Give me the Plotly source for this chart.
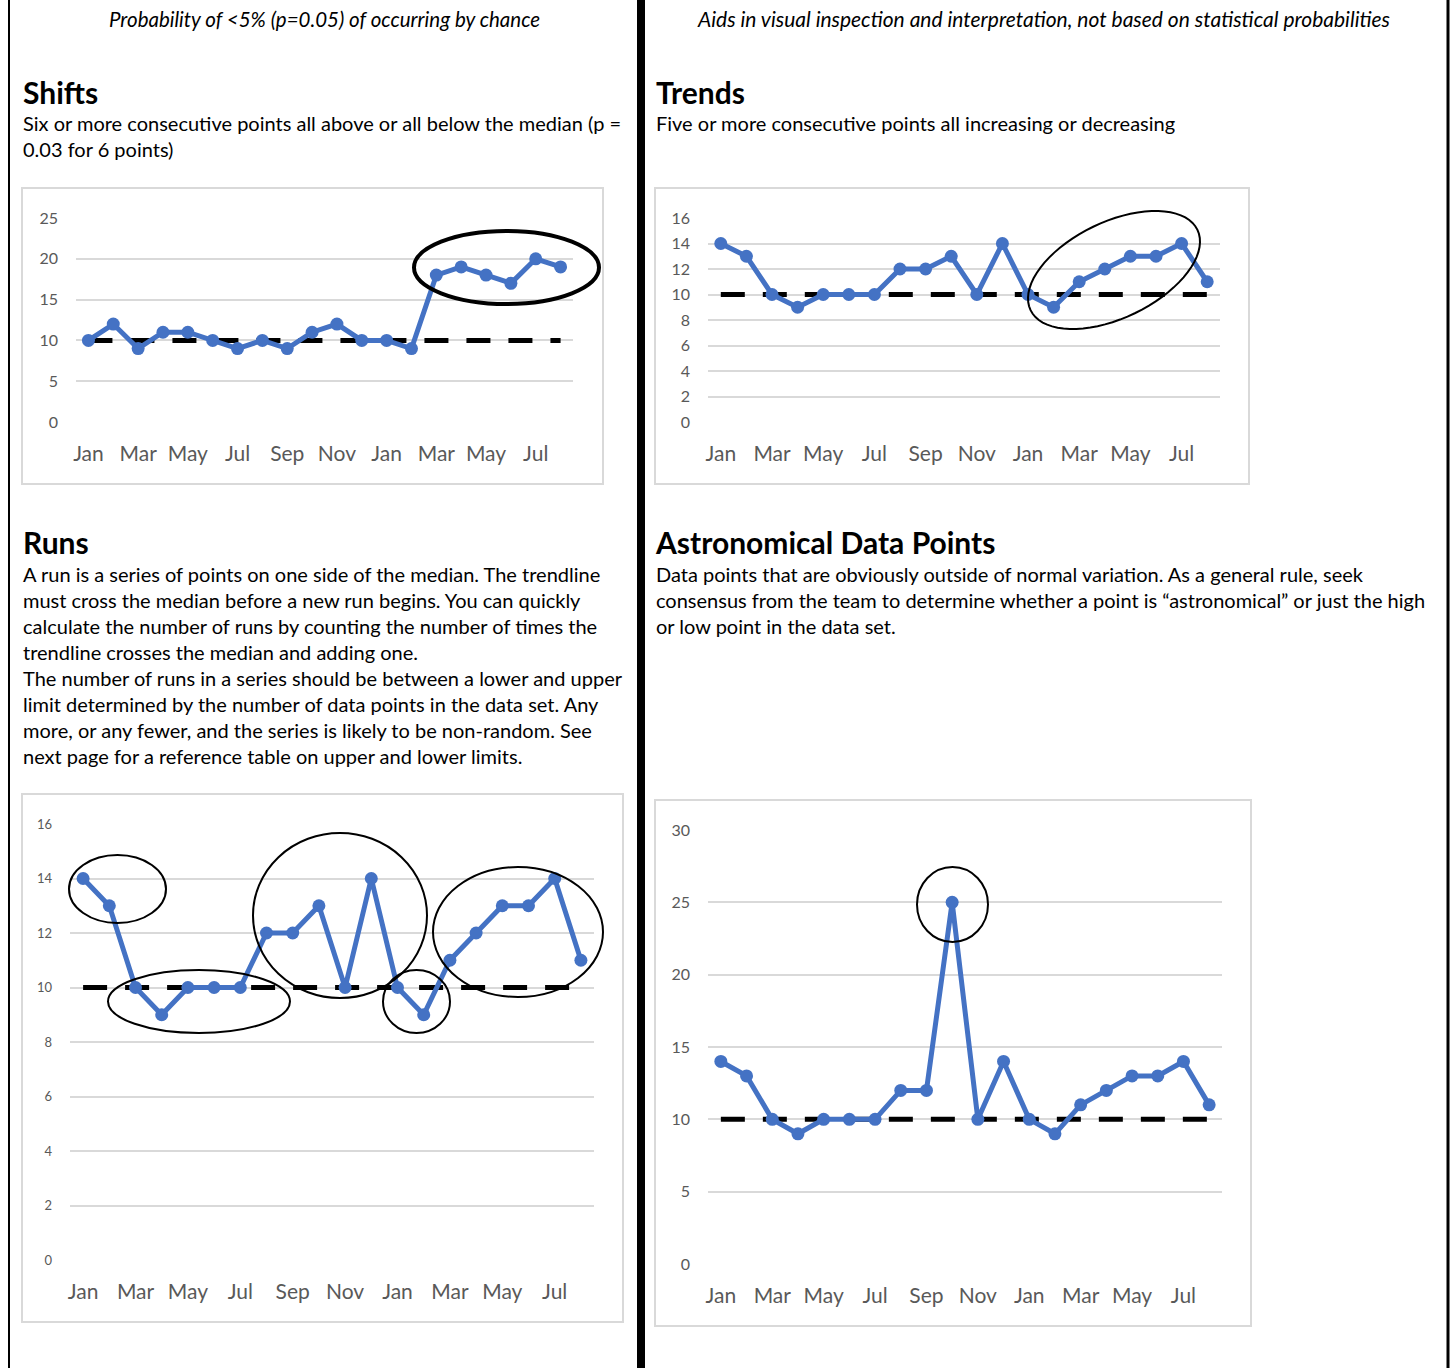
import numpy as np
import plotly.graph_objects as go

W, H = 1450, 1368

# ---------------- data ----------------
months = ["Jan", "Feb", "Mar", "Apr", "May", "Jun", "Jul", "Aug", "Sep", "Oct", "Nov", "Dec",
          "Jan", "Feb", "Mar", "Apr", "May", "Jun", "Jul", "Aug"]
tick_labels = ["Jan", "Mar", "May", "Jul", "Sep", "Nov", "Jan", "Mar", "May", "Jul"]

shifts_values = [10, 12, 9, 11, 11, 10, 9, 10, 9, 11, 12, 10, 10, 9, 18, 19, 18, 17, 20, 19]
trends_values = [14, 13, 10, 9, 10, 10, 10, 12, 12, 13, 10, 14, 10, 9, 11, 12, 13, 13, 14, 11]
runs_values = [14, 13, 10, 9, 10, 10, 10, 12, 12, 13, 10, 14, 10, 9, 11, 12, 13, 13, 14, 11]
astro_values = [14, 13, 10, 9, 10, 10, 10, 12, 12, 25, 10, 14, 10, 9, 11, 12, 13, 13, 14, 11]
median_value = 10

BLUE = "#4472C4"
GRID = "#D9D9D9"
TICK = "#595959"
FONT = "Lato"


def px(x):
    return x / W


def py(y):
    return 1 - y / H


fig = go.Figure()

x_pos = list(range(len(months)))
tickvals = x_pos[::2]

charts = [
    # values, x-domain px, y-domain px (top, bottom), yrange, dtick, ytick font
    (shifts_values, (76, 573), (218, 422), 25, 5, 16),
    (trends_values, (708, 1220), (218, 422), 16, 2, 16),
    (runs_values, (70, 594), (824, 1260), 16, 2, 13),
    (astro_values, (708, 1222), (830, 1264), 30, 5, 16),
]

for i, (vals, (xl, xr), (yt, yb), ymax, dt, yfs) in enumerate(charts):
    n = i + 1
    xa = "x" if n == 1 else f"x{n}"
    ya = "y" if n == 1 else f"y{n}"
    fig.add_trace(go.Scatter(
        x=x_pos, y=[median_value] * len(x_pos), mode="lines",
        line=dict(color="black", width=5, dash="24px,18px"),
        xaxis=xa, yaxis=ya, showlegend=False, hoverinfo="skip"))
    fig.add_trace(go.Scatter(
        x=x_pos, y=vals, mode="lines+markers",
        line=dict(color=BLUE, width=5),
        marker=dict(color=BLUE, size=13),
        xaxis=xa, yaxis=ya, showlegend=False,
        text=months, hovertemplate="%{text}: %{y}<extra></extra>"))
    xkey = "xaxis" if n == 1 else f"xaxis{n}"
    ykey = "yaxis" if n == 1 else f"yaxis{n}"
    fig.update_layout(**{
        xkey: dict(domain=[px(xl), px(xr)], range=[-0.5, len(months) - 0.5],
                   tickvals=tickvals, ticktext=tick_labels, showgrid=False,
                   zeroline=False, showline=False, ticks="", automargin=False,
                   tickfont=dict(family=FONT, size=21, color=TICK),
                   ticklabelstandoff=17, anchor=ya, fixedrange=True),
        ykey: dict(domain=[py(yb), py(yt)], range=[0, ymax], dtick=dt,
                   showgrid=True, gridcolor=GRID, gridwidth=2, zeroline=False,
                   showline=False, ticks="", automargin=False,
                   tickfont=dict(family=FONT, size=yfs, color=TICK),
                   ticklabelstandoff=17, anchor=xa, fixedrange=True),
    })

shapes = []

# chart frames
for (x0, y0, x1, y1) in [(22, 188, 603, 484), (655, 188, 1249, 484),
                         (22, 794, 623, 1322), (655, 800, 1251, 1326)]:
    shapes.append(dict(type="rect", xref="paper", yref="paper",
                       x0=px(x0), x1=px(x1), y0=py(y1), y1=py(y0),
                       line=dict(color=GRID, width=2), layer="below"))

# page lines
for (x, w) in [(9, 2), (641, 8), (1448, 3)]:
    shapes.append(dict(type="line", xref="paper", yref="paper",
                       x0=px(x), x1=px(x), y0=0, y1=1,
                       line=dict(color="black", width=w)))

# ellipses (pixel boxes)
for (x0, y0, x1, y1, w) in [
    (414, 231, 599, 304, 4),      # shifts
    (69, 855, 166, 923, 2),       # runs 1
    (108, 970, 290, 1033, 2),     # runs 2
    (253, 833, 427, 998, 2),      # runs 3
    (383, 970, 450, 1033, 2),     # runs 4
    (433, 867, 603, 997, 2),      # runs 5
    (917, 867, 988, 942, 2),      # astro
]:
    shapes.append(dict(type="circle", xref="paper", yref="paper",
                       x0=px(x0), x1=px(x1), y0=py(y1), y1=py(y0),
                       line=dict(color="black", width=w)))

# rotated ellipse for trends
cx, cy, a, b, th = 1114, 270, 92.6, 48.0, np.deg2rad(-25.7)
t = np.linspace(0, 2 * np.pi, 73)
ex = cx + a * np.cos(t) * np.cos(th) - b * np.sin(t) * np.sin(th)
ey = cy + a * np.cos(t) * np.sin(th) + b * np.sin(t) * np.cos(th)
path = "M " + " L ".join(f"{px(u):.5f},{py(v):.5f}" for u, v in zip(ex, ey)) + " Z"
shapes.append(dict(type="path", xref="paper", yref="paper", path=path,
                   line=dict(color="black", width=2)))

annotations = []


def txt(text, x, y, size, bold=False, italic=False, anchor="left"):
    if bold:
        text = f"<b>{text}</b>"
    if italic:
        text = f"<i>{text}</i>"
    annotations.append(dict(text=text, xref="paper", yref="paper",
                            x=px(x), y=py(y), xanchor=anchor, yanchor="middle",
                            showarrow=False, align=anchor,
                            font=dict(family=FONT, size=size, color="black")))


txt("Probability of <5% (p=0.05) of occurring by chance", 324, 19, 20.5, italic=True, anchor="center")
txt("Aids in visual inspection and interpretation, not based on statistical probabilities",
    1043, 19, 21, italic=True, anchor="center")

txt("Shifts", 21, 92, 30, bold=True)
txt("Trends", 654, 92, 30, bold=True)
txt("Runs", 21, 542, 30, bold=True)
txt("Astronomical Data Points", 653, 542, 30, bold=True)

body_size = 20
for k, line in enumerate([
        "Six or more consecutive points all above or all below the median (p =",
        "0.03 for 6 points)"]):
    txt(line, 21, 123 + 26 * k, body_size)
txt("Five or more consecutive points all increasing or decreasing", 654, 123, body_size)
for k, line in enumerate([
        "A run is a series of points on one side of the median. The trendline",
        "must cross the median before a new run begins. You can quickly",
        "calculate the number of runs by counting the number of times the",
        "trendline crosses the median and adding one.",
        "The number of runs in a series should be between a lower and upper",
        "limit determined by the number of data points in the data set. Any",
        "more, or any fewer, and the series is likely to be non-random. See",
        "next page for a reference table on upper and lower limits."]):
    txt(line, 21, 574 + 26 * k, body_size)
for k, line in enumerate([
        "Data points that are obviously outside of normal variation. As a general rule, seek",
        "consensus from the team to determine whether a point is \u201castronomical\u201d or just the high",
        "or low point in the data set."]):
    txt(line, 654, 574 + 26 * k, body_size)

fig.update_layout(width=W, height=H, autosize=False,
                  margin=dict(l=0, r=0, t=0, b=0, pad=0, autoexpand=False),
                  paper_bgcolor="white", plot_bgcolor="rgba(0,0,0,0)",
                  shapes=shapes, annotations=annotations,
                  font=dict(family=FONT))

fig.write_html("out.html")
